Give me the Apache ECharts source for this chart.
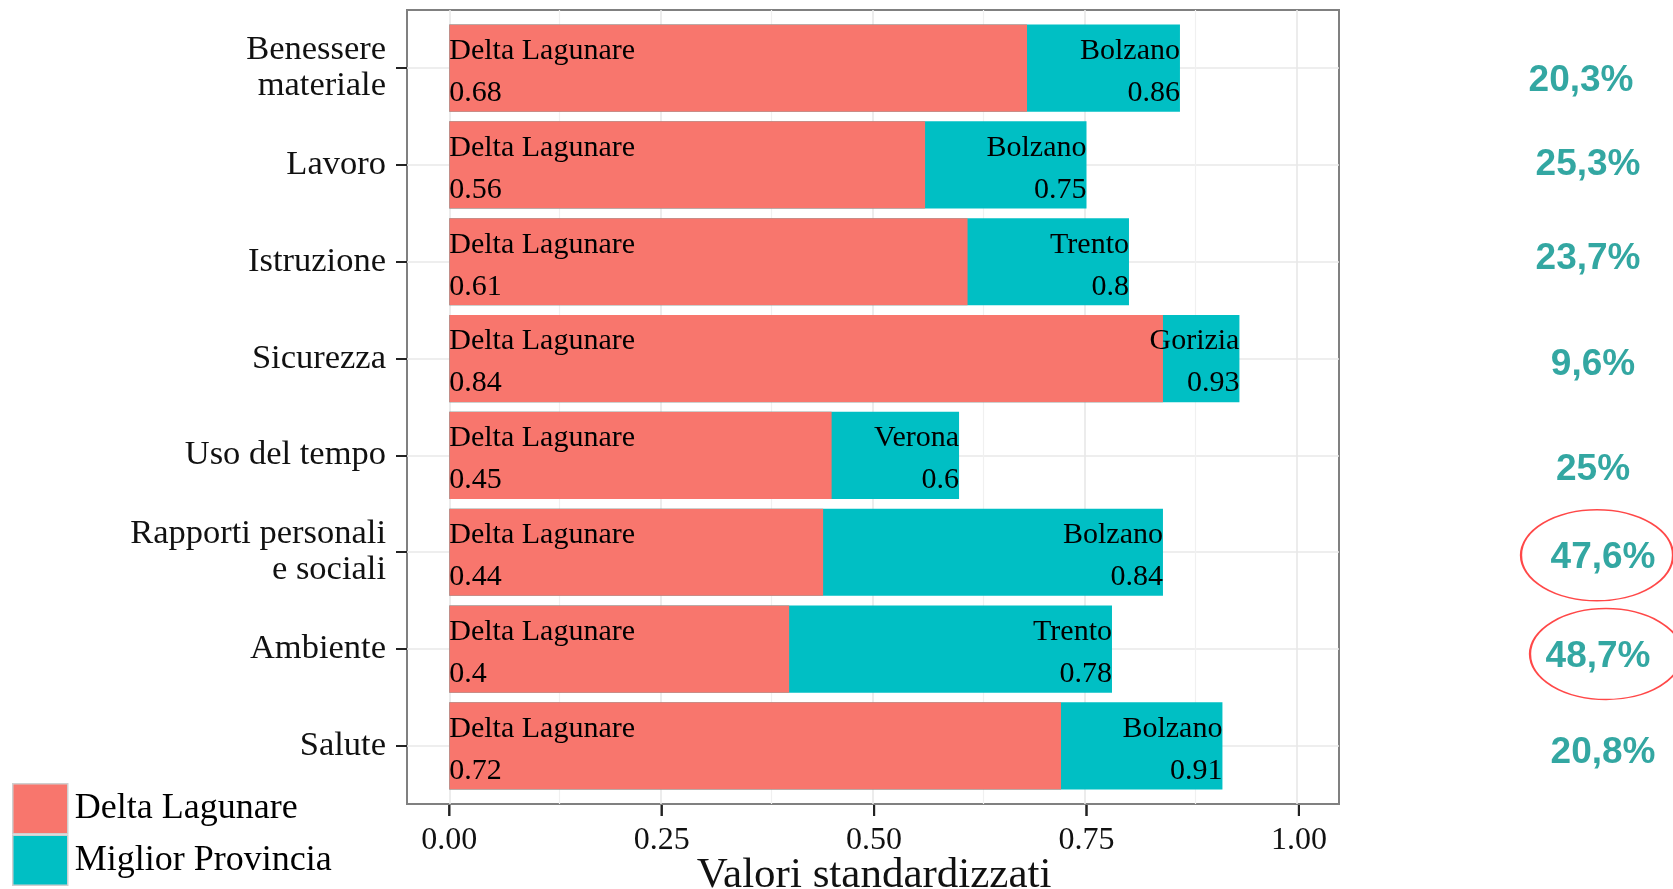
<!DOCTYPE html>
<html>
<head>
<meta charset="utf-8">
<script src="https://cdn.jsdelivr.net/npm/echarts@6/dist/echarts.min.js"></script>
<style>
html,body{margin:0;padding:0;background:#fff;}
#chart{width:1673px;height:889px;}
</style>
</head>
<body>
<div id="chart"></div>
<script>
// ---- data ----
const CATEGORIES = ['Benessere\nmateriale','Lavoro','Istruzione','Sicurezza','Uso del tempo','Rapporti personali\ne sociali','Ambiente','Salute'];
const DL_NAME = 'Delta Lagunare';
const BEST_SERIES_NAME = 'Miglior Provincia';
const DL_VALUES = [0.68, 0.56, 0.61, 0.84, 0.45, 0.44, 0.4, 0.72];
const BEST_VALUES = [0.86, 0.75, 0.8, 0.93, 0.6, 0.84, 0.78, 0.91];
const BEST_NAMES = ['Bolzano','Bolzano','Trento','Gorizia','Verona','Bolzano','Trento','Bolzano'];
const GAP_LABELS = ['20,3%','25,3%','23,7%','9,6%','25%','47,6%','48,7%','20,8%'];
const CIRCLED = ['Rapporti personali\ne sociali','Ambiente'];
const X_TICKS = [0, 0.25, 0.5, 0.75, 1];
const X_MINOR = [0.125, 0.375, 0.625, 0.875];
const X_TITLE = 'Valori standardizzati';

// ---- layout / style ----
const RED = '#F8766D', CYAN = '#00BFC4', TEAL = '#00918b';
const SERIF = 'Liberation Serif';
const PCT_X = 1.345;
const PCT_OFFSETS = [[-11,13],[-4,0],[-4,-3],[1,6],[1,14],[11,6],[6,8],[11,7]];
const ELLIPSE_OFFSETS = [[5,3],[14,5]];
const TICK_LEN = 11;

const chart = echarts.init(document.getElementById('chart'), null, {renderer:'canvas'});

const panelLines = [];
CATEGORIES.forEach((c,i)=>panelLines.push({yAxis:i, lineStyle:{color:'#e8e8e8', width:1.6, type:'solid'}}));
X_TICKS.forEach(v=>panelLines.push({xAxis:v, lineStyle:{color:'#e8e8e8', width:1.6, type:'solid'}}));
X_MINOR.forEach(v=>panelLines.push({xAxis:v, lineStyle:{color:'#f0f0f0', width:1.2, type:'solid'}}));

const tick = () => ({show:true, length:TICK_LEN, lineStyle:{color:'#222', width:2}});
const GRID_COMMON = {outerBoundsMode:'none', containLabel:false};

const option = {
  animation:false,
  grid:[
    Object.assign({left:407, top:10, width:932, height:794, show:true, borderColor:'#808080', borderWidth:2, backgroundColor:'transparent'}, GRID_COMMON), // panel
    Object.assign({left:449.3, top:19.7, width:849.6, height:774.6}, GRID_COMMON), // bars
    Object.assign({left:449.3, top:10, width:849.6, height:794}, GRID_COMMON),     // x axis labels
    Object.assign({left:407, top:19.7, width:40, height:774.6}, GRID_COMMON)       // y axis
  ],
  xAxis:[
    {gridIndex:0, type:'value', min:-0.05, max:1.05, show:false},
    {gridIndex:1, type:'value', min:0, max:1, show:false},
    {gridIndex:2, type:'value', min:0, max:1, interval:0.25,
     axisLine:{show:false},
     axisTick:{show:false},
     axisLabel:{show:true, margin:21, fontSize:32, fontFamily:SERIF, color:'#111', formatter:v=>v.toFixed(2)},
     splitLine:{show:false},
     name:X_TITLE, nameLocation:'middle', nameGap:50, nameMoveOverlap:false,
     nameTextStyle:{fontSize:43, fontFamily:SERIF, color:'#111'}},
    {gridIndex:3, type:'value', min:0, max:1, show:false}
  ],
  yAxis:[
    {gridIndex:0, type:'value', min:-0.6, max:7.6, inverse:true, show:false},
    {gridIndex:1, type:'category', data:CATEGORIES, inverse:true, show:false},
    {gridIndex:2, type:'value', min:0, max:1, show:false},
    {gridIndex:3, type:'category', data:CATEGORIES, inverse:true,
     axisLine:{show:false},
     axisTick:Object.assign({alignWithLabel:true}, tick()),
     axisLabel:{margin:21, fontSize:34.5, lineHeight:36, fontFamily:SERIF, color:'#111'},
     splitLine:{show:false}}
  ],
  legend:{
    data:[DL_NAME, BEST_SERIES_NAME], orient:'vertical', left:12, top:783, padding:0,
    itemWidth:55, itemHeight:50, itemGap:0, icon:'rect',
    itemStyle:{borderColor:'#cfcfcf', borderWidth:1.5},
    textStyle:{fontSize:36, fontFamily:SERIF, color:'#000', padding:[0,0,0,2]}
  },
  series:[
    {type:'line', xAxisIndex:0, yAxisIndex:0, data:[], z:0, silent:true,
     markLine:{silent:true, symbol:'none', animation:false, label:{show:false}, z:0, data:panelLines}},
    {type:'custom', xAxisIndex:2, yAxisIndex:2, clip:false, silent:true, z:20,
     data:X_TICKS.map(v=>[v, 0]),
     renderItem:(params, api)=>{
       const p = api.coord([api.value(0), 0]);
       return {type:'line', shape:{x1:p[0], y1:p[1]+1, x2:p[0], y2:p[1]+1+TICK_LEN},
               style:{stroke:'#222', lineWidth:2}};
     }},
    {name:BEST_SERIES_NAME, type:'bar', xAxisIndex:1, yAxisIndex:1, data:BEST_VALUES,
     barWidth:'90%', barGap:'-100%', z:3,
     itemStyle:{color:CYAN},
     label:{show:true, position:'insideRight', distance:0, offset:[0,4], fontSize:30, lineHeight:42, fontFamily:SERIF, color:'#000',
       formatter:p=>BEST_NAMES[p.dataIndex]+'\n'+String(p.value)}},
    {name:DL_NAME, type:'bar', xAxisIndex:1, yAxisIndex:1, data:DL_VALUES,
     barWidth:'90%', barGap:'-100%', z:3,
     itemStyle:{color:RED},
     label:{show:true, position:'insideLeft', distance:0, offset:[0,4], fontSize:30, lineHeight:42, fontFamily:SERIF, color:'#000',
       formatter:p=>DL_NAME+'\n'+String(p.value)}},
    {name:'gap', type:'scatter', xAxisIndex:1, yAxisIndex:1, clip:false, silent:true, z:10,
     symbolSize:1, itemStyle:{color:'rgba(0,0,0,0)'},
     data:GAP_LABELS.map((t,i)=>({value:[PCT_X, i], label:{offset:PCT_OFFSETS[i]}})),
     label:{show:true, position:'inside', fontSize:37, fontWeight:'bold', fontFamily:'Liberation Sans', color:TEAL,
       formatter:p=>GAP_LABELS[p.dataIndex]}},
    {name:'circled', type:'scatter', xAxisIndex:1, yAxisIndex:1, clip:false, silent:true, z:11,
     symbol:'circle', symbolSize:[152,91],
     itemStyle:{color:'rgba(0,0,0,0)', borderColor:'#ff1a1a', borderWidth:1.8},
     data:CIRCLED.map((c,k)=>({value:[PCT_X, CATEGORIES.indexOf(c)], symbolOffset:ELLIPSE_OFFSETS[k]}))}
  ]
};
chart.setOption(option);

// x-axis ticks placed through the library's own scale (second route, in case the custom series is hidden)
const tickEls = X_TICKS.map(v=>{
  const p = chart.convertToPixel({xAxisIndex:2, yAxisIndex:2}, [v, 0]);
  return {type:'line', silent:true, z:100,
          shape:{x1:p[0], y1:p[1]+1, x2:p[0], y2:p[1]+1+TICK_LEN},
          style:{stroke:'#222', lineWidth:2}};
});
chart.setOption({graphic:{elements:tickEls}});
</script>
</body>
</html>
